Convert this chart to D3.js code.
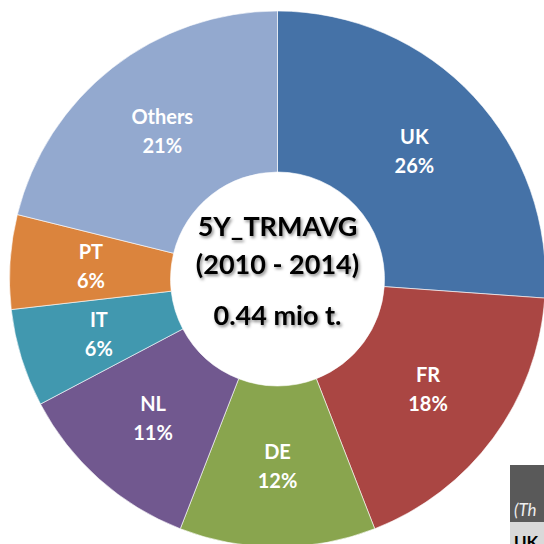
<!DOCTYPE html>
<html>
<head>
<meta charset="utf-8">
<script src="https://cdn.jsdelivr.net/npm/d3@7"></script>
<style>
  html, body { margin: 0; padding: 0; background: #fff; }
  svg { display: block; }
</style>
</head>
<body>
<svg width="544" height="544"></svg>
<script>
// shares in thousand tonnes, 5-year average 2010-2014 (total 0.44 mio t.)
const countries = ["UK", "FR", "DE", "NL", "IT", "PT", "Others"];
const tonnes = [115, 79, 52, 50, 26, 25, 93];
const colours = ["#4572A7", "#AA4643", "#89A54E", "#71588F", "#4198AF", "#DB843D", "#93A9CF"];
const centreLines = ["5Y_TRMAVG", "(2010 - 2014)", "0.44 mio t."];

const width = 544, height = 544;
const cx = 277.5, cy = 279;
const outerR = 268, innerR = 107;

const svg = d3.select("svg");

const defs = svg.append("defs");
defs.append("filter")
    .attr("id", "shadow")
    .attr("x", "-20%").attr("y", "-40%")
    .attr("width", "140%").attr("height", "180%")
  .append("feDropShadow")
    .attr("dx", 1.5).attr("dy", 2)
    .attr("stdDeviation", 1.6)
    .attr("flood-color", "#000")
    .attr("flood-opacity", 0.45);

const data = countries.map((c, i) => ({name: c, value: tonnes[i], colour: colours[i]}));
const total = d3.sum(tonnes);

const pie = d3.pie().sort(null).value(d => d.value);
const arc = d3.arc().innerRadius(innerR).outerRadius(outerR);
const labelArc = d3.arc().innerRadius(187).outerRadius(187);

const g = svg.append("g").attr("transform", `translate(${cx},${cy})`);

const arcs = pie(data);

g.selectAll("path")
    .data(arcs)
    .join("path")
    .attr("d", arc)
    .attr("fill", d => d.data.colour)
    .attr("stroke", "#fff")
    .attr("stroke-width", 0.6);

const labels = g.selectAll("g.lab")
    .data(arcs)
    .join("g")
    .attr("class", "lab")
    .attr("transform", d => `translate(${labelArc.centroid(d)})`)
    .style("font-family", "Lato, 'Open Sans', sans-serif")
    .style("font-weight", "bold")
    .style("font-size", "20px")
    .attr("fill", "#fff")
    .attr("text-anchor", "middle");

labels.append("text")
    .attr("y", -14.5)
    .attr("dy", "0.35em")
    .text(d => d.data.name);

labels.append("text")
    .attr("y", 14.5)
    .attr("dy", "0.35em")
    .text(d => d3.format(".0%")(d.data.value / total));

// centre text
const centre = g.append("g")
    .attr("filter", "url(#shadow)")
    .style("font-family", "Lato, 'Open Sans', sans-serif")
    .style("font-weight", "bold")
    .style("font-size", "27px")
    .attr("fill", "#000")
    .attr("text-anchor", "middle");

const centreY = [-52, -14, 37];
centre.selectAll("text")
    .data(centreLines)
    .join("text")
    .attr("x", 0)
    .attr("y", (d, i) => centreY[i])
    .attr("dy", "0.35em")
    .text(d => d);

// clipped table header peeking in at the bottom right
const tbl = svg.append("g");
tbl.append("rect")
    .attr("x", 510).attr("y", 465)
    .attr("width", 40).attr("height", 57)
    .attr("fill", "#595959");
tbl.append("rect")
    .attr("x", 510).attr("y", 522)
    .attr("width", 40).attr("height", 30)
    .attr("fill", "#D9D9D9");
tbl.append("text")
    .attr("x", 514).attr("y", 516)
    .style("font-family", "Lato, sans-serif")
    .style("font-style", "italic")
    .style("font-size", "17px")
    .attr("fill", "#eeeeee")
    .text("(Th");
tbl.append("text")
    .attr("x", 514).attr("y", 548)
    .style("font-family", "Lato, sans-serif")
    .style("font-weight", "bold")
    .style("font-size", "17px")
    .attr("fill", "#000")
    .text("UK");
</script>
</body>
</html>
